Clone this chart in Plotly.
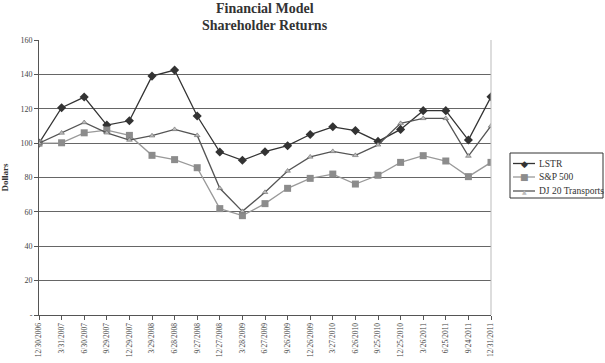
import plotly.graph_objects as go

dates = ["12/30/2006", "3/31/2007", "6/30/2007", "9/29/2007", "12/29/2007", "3/29/2008",
         "6/28/2008", "9/27/2008", "12/27/2008", "3/28/2009", "6/27/2009", "9/26/2009",
         "12/26/2009", "3/27/2010", "6/26/2010", "9/25/2010", "12/25/2010", "3/26/2011",
         "6/25/2011", "9/24/2011", "12/31/2011"]
lstr = [100, 120.6, 126.8, 110.5, 113, 139, 142.5, 115.8, 94.8, 90, 95, 98.5,
        105, 109.5, 107.3, 101, 108, 118.9, 118.9, 101.8, 127]
sp500 = [100, 100.2, 106, 107.6, 104.5, 92.9, 90.4, 85.7, 61.9, 57.8, 64.8, 73.7,
         79.5, 82, 76.2, 81.3, 88.8, 92.7, 89.6, 80.5, 88.8]
dj20 = [100, 105.9, 112, 106, 101.8, 104.3, 108, 104.5, 73.7, 60.3, 71.4, 83.8,
        92, 95.2, 92.9, 99, 111.5, 114.4, 114.4, 92.5, 110]
series_names = ["LSTR", "S&P 500", "DJ 20 Transports"]
yticks = [0, 20, 40, 60, 80, 100, 120, 140, 160]
ytext = ["-", "20", "40", "60", "80", "100", "120", "140", "160"]

font = "Liberation Serif, Times New Roman, serif"
styles = [
    dict(line="#333333", marker="#333333", symbol="diamond", size=7, glyph="\u25c6", gsize=9),
    dict(line="#999999", marker="#8c8c8c", symbol="square", size=7, glyph="\u25a0", gsize=9),
    dict(line="#555555", marker="#bbbbbb", symbol="triangle-up", size=5, glyph="\u25b2", gsize=6),
]

fig = go.Figure()
for name, vals, st in zip(series_names, [lstr, sp500, dj20], styles):
    fig.add_trace(go.Scatter(x=dates, y=vals, name=name, mode="lines+markers",
                             line=dict(color=st["line"], width=1.3),
                             marker=dict(symbol=st["symbol"], size=st["size"], color=st["marker"],
                                         line=dict(color=st["line"], width=0.5 if st["symbol"] == "triangle-up" else 0)),
                             showlegend=False))

W, H = 605, 363
L, R, T, B = 39, 114, 40, 48
pw, ph = W - L - R, H - T - B

def px(x):
    return (x - L) / pw

def py(y):
    return (H - B - y) / ph

fig.update_layout(
    width=W, height=H,
    margin=dict(l=L, r=R, t=T, b=B, autoexpand=False),
    paper_bgcolor="white", plot_bgcolor="white",
    font=dict(family=font, size=9, color="#333333"),
    showlegend=False,
    hovermode=False,
    xaxis=dict(type="category", range=[0, 20], tickangle=-90, showgrid=False,
               showline=True, linecolor="#555555", linewidth=1,
               ticks="outside", ticklen=4, tickcolor="#555555",
               tickfont=dict(family=font, size=7.5, color="#444444"),
               automargin=False),
    yaxis=dict(range=[0, 160], tickvals=yticks, ticktext=ytext,
               showgrid=True, gridcolor="#666666", gridwidth=1,
               showline=True, linecolor="#555555", linewidth=1,
               ticks="outside", ticklen=4, tickcolor="#555555",
               tickfont=dict(family=font, size=8, color="#444444"),
               title=dict(text="<b>Dollars</b>", font=dict(family=font, size=9, color="#333333"),
                          standoff=10),
               zeroline=False, automargin=False),
)
# title
fig.add_annotation(text="<b>Financial Model</b>", xref="paper", yref="paper", x=0.5, y=py(9),
                   yanchor="middle", showarrow=False,
                   font=dict(family=font, size=14, color="#333333"))
fig.add_annotation(text="<b>Shareholder Returns</b>", xref="paper", yref="paper", x=0.5, y=py(26),
                   yanchor="middle", showarrow=False,
                   font=dict(family=font, size=14, color="#333333"))
# right border of plot area
fig.add_shape(type="line", xref="paper", yref="paper", x0=1, x1=1, y0=0, y1=1,
              line=dict(color="#bbbbbb", width=1))

# legend box
fig.add_shape(type="rect", xref="paper", yref="paper", x0=px(510), x1=px(603), y0=py(198), y1=py(153),
              line=dict(color="#333333", width=1), fillcolor="white")
rows = [163.5, 177, 191]
for name, st, ry in zip(series_names, styles, rows):
    fig.add_shape(type="line", xref="paper", yref="paper", x0=px(513), x1=px(535), y0=py(ry), y1=py(ry),
                  line=dict(color=st["line"], width=1.3))
    fig.add_annotation(text=st["glyph"], xref="paper", yref="paper", x=px(524), y=py(ry),
                       xanchor="center", yanchor="middle", showarrow=False,
                       font=dict(family="DejaVu Sans", size=st["gsize"], color=st["marker"]))
    fig.add_annotation(text=name, xref="paper", yref="paper", x=px(537), y=py(ry),
                       xanchor="left", yanchor="middle", showarrow=False,
                       font=dict(family=font, size=9.5, color="#333333"))

fig.write_html("out.html", config={"displayModeBar": False},
               post_script="document.body.style.margin='0';")
